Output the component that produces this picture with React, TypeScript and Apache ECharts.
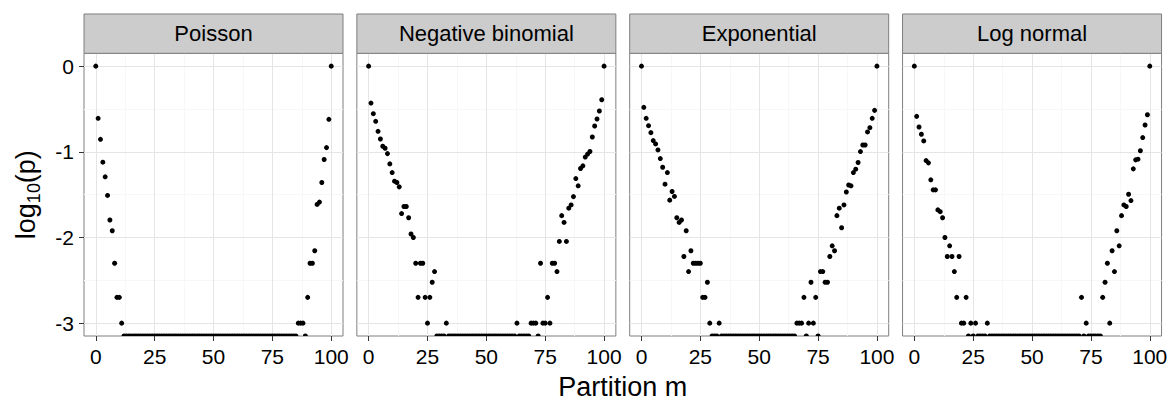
import React, { useEffect, useRef } from "react";
import * as echarts from "echarts";

// p = 0 gives log10(p) = -Inf; ggplot draws such points on the lower panel edge
const F = -Infinity;

const panelNames = ["Poisson", "Negative binomial", "Exponential", "Log normal"];
const xTicks = [0, 25, 50, 75, 100];
const xMinorTicks = [12.5, 37.5, 62.5, 87.5];
const yTicks = [0, -1, -2, -3];
const yMinorTicks = [-0.5, -1.5, -2.5];
const xTitle = "Partition m";

// partition index m = 0..100
const partitionM = Array.from({ length: 101 }, (_, i) => i);

const poissonLogP = [
  0, -0.609, -0.854, -1.121, -1.292, -1.509, -1.796, -1.921, -2.301, -2.699,
  -2.699, -3, F, F, F, F, F, F, F, F,
  F, F, F, F, F, F, F, F, F, F,
  F, F, F, F, F, F, F, F, F, F,
  F, F, F, F, F, F, F, F, F, F,
  F, F, F, F, F, F, F, F, F, F,
  F, F, F, F, F, F, F, F, F, F,
  F, F, F, F, F, F, F, F, F, F,
  F, F, F, F, F, F, -3, -3, -3, F,
  -2.699, -2.301, -2.301, -2.155, -1.614, -1.587, -1.358, -1.09, -0.951, -0.621,
  0,
];

const negBinomialLogP = [
  0, -0.431, -0.555, -0.644, -0.761, -0.85, -0.935, -0.958, -1.021, -1.141,
  -1.242, -1.343, -1.358, -1.409, -1.721, -1.638, -1.638, -1.77, -1.959, -2,
  -2.301, -2.699, -2.301, -2.301, -2.699, -3, -2.699, -2.523, -2.398, F,
  F, F, F, -3, F, F, F, F, F, F,
  F, F, F, F, F, F, F, F, F, F,
  F, F, F, F, F, F, F, F, F, F,
  F, F, F, -3, F, F, F, F, F, -3,
  -3, -3, F, -2.301, -3, -3, -2.699, -3, -2.301, -2.301,
  -2.398, -2.046, -1.745, -1.824, -2.046, -1.658, -1.62, -1.523, -1.312, -1.397,
  -1.195, -1.164, -1.061, -1.026, -0.996, -0.827, -0.699, -0.617, -0.524, -0.392,
  0,
];

const exponentialLogP = [
  0, -0.481, -0.609, -0.695, -0.776, -0.869, -0.908, -0.978, -1.079, -1.18,
  -1.378, -1.242, -1.564, -1.463, -1.521, -1.77, -1.824, -1.796, -2.222, -1.921,
  -2.398, -2.155, -2.301, -2.301, -2.301, -2.301, -2.699, -2.699, -2.523, -3,
  F, F, F, -3, F, F, F, F, F, F,
  F, F, F, F, F, F, F, F, F, F,
  F, F, F, F, F, F, F, F, F, F,
  F, F, F, F, F, F, -3, -3, -3, -2.699,
  F, -3, -2.523, -3, -2.699, F, -2.398, -2.398, -2.523, -2.523,
  -2.222, -2.097, -2.155, -1.745, -1.658, -1.886, -1.62, -1.469, -1.387, -1.397,
  -1.242, -1.203, -1.125, -0.997, -0.92, -0.92, -0.768, -0.718, -0.609, -0.516,
  0,
];

const logNormalLogP = [
  0, -0.586, -0.71, -0.795, -0.873, -1.102, -1.129, -1.327, -1.444, -1.444,
  -1.678, -1.699, -1.77, -2, -2.222, -2.097, -2.222, -2.398, -2.699, -2.222,
  -3, -3, -2.699, F, -3, F, -3, F, F, F,
  F, -3, F, F, F, F, F, F, F, F,
  F, F, F, F, F, F, F, F, F, F,
  F, F, F, F, F, F, F, F, F, F,
  F, F, F, F, F, F, F, F, F, F,
  F, -2.699, F, -3, F, F, F, F, F, F,
  -2.699, -2.523, -2.301, -3, -2.155, -2.398, -1.921, -2.097, -1.745, -1.62,
  -1.638, -1.495, -1.569, -1.199, -1.094, -1.086, -0.988, -0.834, -0.687, -0.567,
  0,
];

const panelValues = [poissonLogP, negBinomialLogP, exponentialLogP, logNormalLogP];

// ---- layout / style ----
const FONT = '"Liberation Sans", Arial, Helvetica, sans-serif';
const X_MIN = -5;
const X_MAX = 105;
const Y_MIN = -3.15;
const Y_MAX = 0.15;
const PANEL_LEFT0 = 84;
const PANEL_STEP = 272.85;
const PANEL_W = 259;
const PANEL_TOP = 53.3;
const PANEL_BOTTOM = 336;
const STRIP_TOP = 14;
const BORDER = "#7F7F7F";
const MAJOR_GRID = "#E5E5E5";
const MINOR_GRID = "#F7F7F7";
const TICK = "#333333";
const TICK_FONT = 21;
const STRIP_FONT = 22;
const TITLE_FONT = 27;

function buildOption() {
  const n = panelNames.length;
  const grids = panelNames.map((_, i) => ({
    left: PANEL_LEFT0 + PANEL_STEP * i,
    top: PANEL_TOP,
    width: PANEL_W,
    height: PANEL_BOTTOM - PANEL_TOP,
    show: true,
    borderColor: BORDER,
    borderWidth: 1,
    backgroundColor: "#ffffff",
    containLabel: false,
    outerBoundsMode: "none",
  }));

  const xMain = panelNames.map((_, i) => ({
    type: "value",
    gridIndex: i,
    position: "bottom",
    min: X_MIN,
    max: X_MAX,
    axisLine: { show: false, onZero: false },
    axisTick: { show: true, length: 5, customValues: xTicks, lineStyle: { color: TICK, width: 1 } },
    axisLabel: { show: true, customValues: xTicks, fontSize: TICK_FONT, fontFamily: FONT, color: "#000", margin: 10 },
    splitLine: { show: true, lineStyle: { color: MAJOR_GRID, width: 1 } },
    z: 1,
  }));
  const xMinor = panelNames.map((_, i) => ({
    type: "value",
    gridIndex: i,
    position: "bottom",
    min: X_MIN,
    max: X_MAX,
    axisLine: { show: false, onZero: false },
    axisTick: { show: false, customValues: xMinorTicks },
    axisLabel: { show: false },
    splitLine: { show: true, lineStyle: { color: MINOR_GRID, width: 1 } },
    z: 0,
  }));
  const yMain = panelNames.map((_, i) => ({
    type: "value",
    gridIndex: i,
    position: "left",
    min: Y_MIN,
    max: Y_MAX,
    axisLine: { show: false, onZero: false },
    axisTick: { show: i === 0, length: 5, customValues: yTicks, lineStyle: { color: TICK, width: 1 } },
    axisLabel: { show: i === 0, customValues: yTicks, fontSize: TICK_FONT, fontFamily: FONT, color: "#000", margin: 10 },
    splitLine: { show: true, lineStyle: { color: MAJOR_GRID, width: 1 } },
    z: 1,
  }));
  const yMinor = panelNames.map((_, i) => ({
    type: "value",
    gridIndex: i,
    position: "left",
    min: Y_MIN,
    max: Y_MAX,
    axisLine: { show: false, onZero: false },
    axisTick: { show: false, customValues: yMinorTicks },
    axisLabel: { show: false },
    splitLine: { show: true, lineStyle: { color: MINOR_GRID, width: 1 } },
    z: 0,
  }));

  const series: any[] = [];
  panelValues.forEach((vals, i) => {
    const finite = vals
      .map((v, k) => (v === F ? null : [partitionM[k], v]))
      .filter((d) => d !== null);
    const floor = vals
      .map((v, k) => (v === F ? [partitionM[k], Y_MIN] : null))
      .filter((d) => d !== null);
    series.push({
      type: "scatter",
      xAxisIndex: i + n,
      yAxisIndex: i + n,
      data: finite,
      symbol: "circle",
      symbolSize: 5,
      itemStyle: { color: "#000", opacity: 1 },
      silent: true,
      z: 5,
    });
    series.push({
      type: "scatter",
      xAxisIndex: i + n,
      yAxisIndex: i + n,
      data: floor,
      clip: false,
      symbol: "path://M0,10 A10,10 0 0 1 20,10 Z",
      symbolSize: [5, 2.5],
      symbolOffset: [0, -1.25],
      itemStyle: { color: "#000", opacity: 1 },
      silent: true,
      z: 5,
    });
  });

  const graphics: any[] = [];
  panelNames.forEach((name, i) => {
    const left = PANEL_LEFT0 + PANEL_STEP * i;
    graphics.push({
      type: "rect",
      shape: { x: left, y: STRIP_TOP, width: PANEL_W, height: PANEL_TOP - STRIP_TOP },
      style: { fill: "#CCCCCC", stroke: BORDER, lineWidth: 1 },
      z: 10,
      silent: true,
    });
    graphics.push({
      type: "text",
      x: left + PANEL_W / 2,
      y: (STRIP_TOP + PANEL_TOP) / 2,
      style: {
        text: name,
        fontSize: STRIP_FONT,
        fontFamily: FONT,
        fill: "#000",
        align: "center",
        verticalAlign: "middle",
      },
      z: 11,
      silent: true,
    });
  });
  const firstLeft = PANEL_LEFT0;
  const lastRight = PANEL_LEFT0 + PANEL_STEP * (n - 1) + PANEL_W;
  graphics.push({
    type: "text",
    x: (firstLeft + lastRight) / 2,
    y: 387,
    style: {
      text: xTitle,
      fontSize: TITLE_FONT,
      fontFamily: FONT,
      fill: "#000",
      align: "center",
      verticalAlign: "middle",
    },
    silent: true,
  });
  graphics.push({
    type: "text",
    x: 26,
    y: (PANEL_TOP + PANEL_BOTTOM) / 2,
    rotation: Math.PI / 2,
    style: {
      text: "{a|log}{b|10}{a|(p)}",
      align: "center",
      verticalAlign: "middle",
      rich: {
        a: { fontSize: TITLE_FONT, fontFamily: FONT, fill: "#000", lineHeight: 34, verticalAlign: "middle" },
        b: { fontSize: 18, fontFamily: FONT, fill: "#000", lineHeight: 18, verticalAlign: "bottom" },
      },
    },
    silent: true,
  });

  return {
    animation: false,
    backgroundColor: "#ffffff",
    grid: grids,
    xAxis: [...xMinor, ...xMain],
    yAxis: [...yMinor, ...yMain],
    series,
    graphic: graphics,
  };
}

export default function App() {
  const ref = useRef<HTMLDivElement>(null);
  useEffect(() => {
    if (!ref.current) return;
    const chart = echarts.init(ref.current, undefined, { renderer: "svg" });
    chart.setOption(buildOption() as any);
    return () => chart.dispose();
  }, []);
  return (
    <div
      ref={ref}
      style={{ position: "fixed", left: 0, top: 0, width: 1176, height: 405, background: "#fff" }}
    />
  );
}
